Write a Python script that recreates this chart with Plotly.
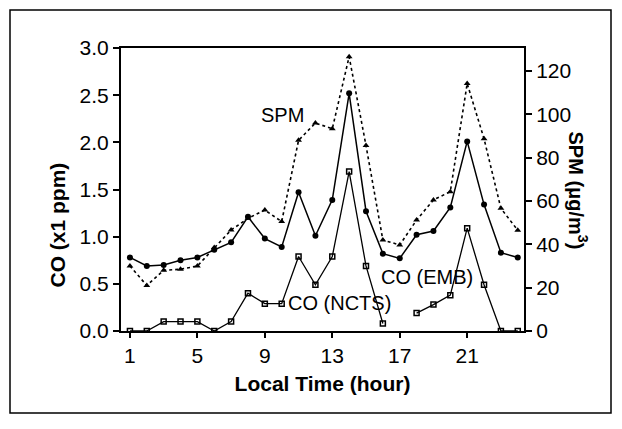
import plotly.graph_objects as go

hours = list(range(1, 25))
co_emb = [0.78, 0.69, 0.70, 0.75, 0.78, 0.86, 0.94, 1.21, 0.98, 0.89, 1.47, 1.01,
          1.39, 2.52, 1.27, 0.82, 0.77, 1.02, 1.06, 1.31, 2.01, 1.34, 0.83, 0.78]
co_ncts = [0.0, 0.0, 0.10, 0.10, 0.10, 0.0, 0.10, 0.40, 0.29, 0.29, 0.79, 0.49,
           0.79, 1.69, 0.69, 0.08, None, 0.19, 0.28, 0.38, 1.09, 0.49, 0.0, 0.0]
spm = [30, 21, 28, 28.5, 30, 38.5, 46.6, 52, 55.8, 50.5, 88, 96,
       93.3, 126.6, 85.6, 42, 39.7, 51.2, 60.5, 64.3, 114.2, 88.7, 56.6, 46.5]

x_ticks = [1, 5, 9, 13, 17, 21]
co_ticks = [0.0, 0.5, 1.0, 1.5, 2.0, 2.5, 3.0]
spm_ticks = [0, 20, 40, 60, 80, 100, 120]

FONT = "Liberation Sans, Arial, sans-serif"

fig = go.Figure()
fig.add_trace(go.Scatter(
    x=hours, y=spm, yaxis="y2", mode="lines+markers",
    line=dict(color="black", width=1.6, dash="dot"),
    marker=dict(symbol="triangle-up", size=6, color="black"),
    name="SPM", connectgaps=False))
fig.add_trace(go.Scatter(
    x=hours, y=co_emb, mode="lines+markers",
    line=dict(color="black", width=1.5),
    marker=dict(symbol="circle", size=6, color="black"),
    name="CO (EMB)"))
fig.add_trace(go.Scatter(
    x=hours, y=co_ncts, mode="lines+markers",
    line=dict(color="black", width=1.3),
    marker=dict(symbol="square-open", size=5, color="black", line=dict(width=1.5)),
    name="CO (NCTS)", connectgaps=False))

axis_common = dict(showline=True, linecolor="black", linewidth=2, ticks="outside",
                   tickcolor="black", ticklen=6, tickwidth=1.5, showgrid=False,
                   zeroline=False, tickfont=dict(family=FONT, size=21, color="black"))

fig.update_layout(
    width=622, height=429, autosize=False,
    margin=dict(l=121, r=98, t=48, b=98),
    paper_bgcolor="white", plot_bgcolor="white",
    showlegend=False,
    xaxis=dict(range=[0.47, 24.37], tickvals=x_ticks, mirror=True,
               title=dict(text="<b>Local Time (hour)</b>", standoff=10,
                          font=dict(family=FONT, size=21, color="black")),
               **axis_common),
    yaxis=dict(range=[0, 3.0], tickvals=co_ticks, tickformat=".1f", **axis_common),
    yaxis2=dict(range=[0, 130.6], tickvals=spm_ticks, overlaying="y", side="right",
                **axis_common),
)
fig.update_xaxes(ticklen=5)

fig.add_annotation(text="<b>CO (x1 ppm)</b>", xref="paper", yref="paper",
                   x=(43 - 121) / 403, y=(331 - 225) / 283, textangle=-90,
                   showarrow=False, font=dict(family=FONT, size=21, color="black"))
fig.add_annotation(text="<b>SPM (μg/m<sup>3</sup>)</b>", xref="paper", yref="paper",
                   x=(593 - 121) / 403, y=(331 - 190) / 283, textangle=90,
                   showarrow=False, font=dict(family=FONT, size=20, color="black"))

label_font = dict(family=FONT, size=20, color="black")
fig.add_annotation(text="SPM", x=10.02, y=2.29, showarrow=False, font=label_font)
fig.add_annotation(text="CO (NCTS)", x=13.45, y=0.297, showarrow=False, font=label_font)
fig.add_annotation(text="CO (EMB)", x=18.62, y=0.572, showarrow=False, font=label_font)

fig.add_shape(type="rect", xref="paper", yref="paper",
              x0=(10 - 121) / 403, x1=(611 - 121) / 403,
              y0=(331 - 413) / 283, y1=(331 - 10) / 283,
              line=dict(color="black", width=1.5), layer="below")

fig.write_html("out.html")
